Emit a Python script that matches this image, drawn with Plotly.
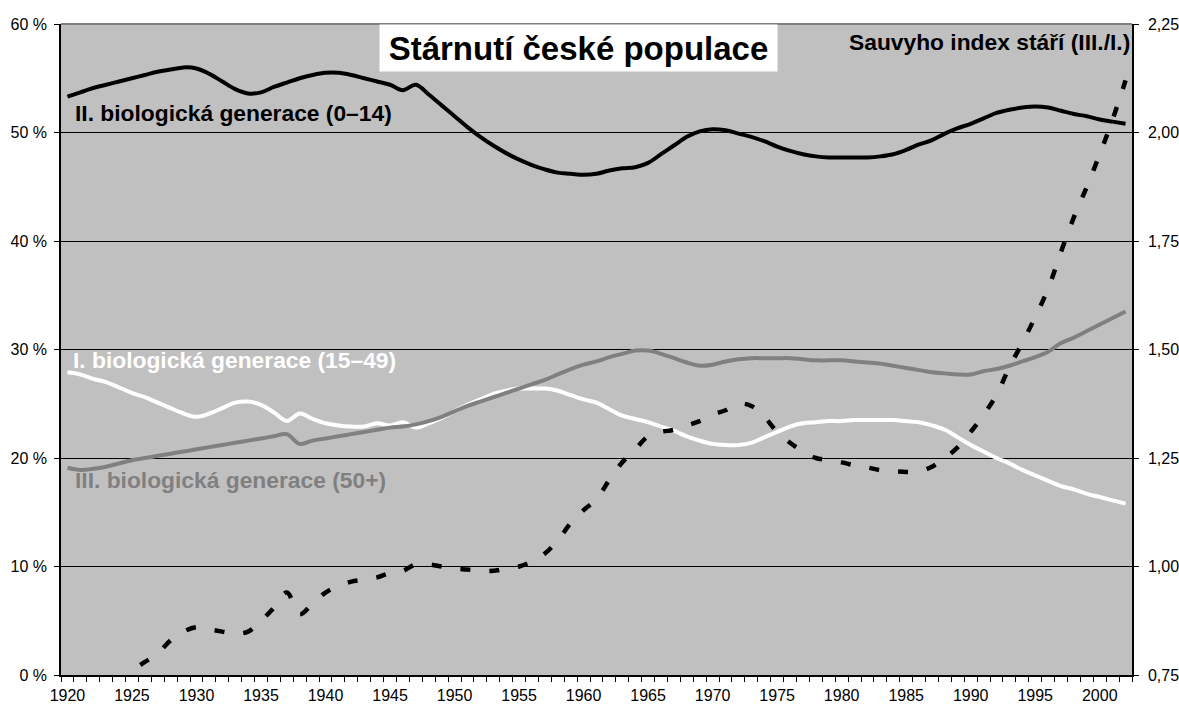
import plotly.graph_objects as go

years = list(range(1920, 2003))

gen_II_0_14 = [
    53.3, 53.7, 54.1, 54.4, 54.7, 55.0, 55.3, 55.6, 55.8, 56.0,
    55.9, 55.4, 54.7, 54.0, 53.6, 53.7, 54.2, 54.6, 55.0, 55.3,
    55.5, 55.5, 55.3, 55.0, 54.7, 54.4, 53.9, 54.4, 53.5, 52.5,
    51.5, 50.5, 49.6, 48.8, 48.1, 47.5, 47.0, 46.6, 46.3, 46.2,
    46.1, 46.2, 46.5, 46.7, 46.8, 47.2, 48.0, 48.8, 49.6, 50.1,
    50.3, 50.2, 49.9, 49.6, 49.2, 48.7, 48.3, 48.0, 47.8, 47.7,
    47.7, 47.7, 47.7, 47.8, 48.0, 48.4, 48.9, 49.3, 49.9, 50.4,
    50.8, 51.3, 51.8, 52.1, 52.3, 52.4, 52.3, 52.0, 51.7, 51.5,
    51.2, 51.0, 50.8,
]

gen_I_15_49 = [
    27.9, 27.7, 27.3, 27.0, 26.5, 26.0, 25.6, 25.1, 24.6, 24.1,
    23.8, 24.1, 24.6, 25.1, 25.2, 24.9, 24.2, 23.4, 24.1, 23.6,
    23.2, 23.0, 22.9, 22.9, 23.2, 23.0, 23.3, 22.8, 23.2, 23.7,
    24.3, 24.9, 25.4, 25.9, 26.2, 26.4, 26.4, 26.4, 26.2, 25.8,
    25.4, 25.1, 24.5, 23.9, 23.6, 23.3, 22.9, 22.5, 22.0, 21.6,
    21.3, 21.2, 21.2, 21.4, 21.9, 22.4, 22.9, 23.2, 23.3, 23.4,
    23.4, 23.5, 23.5, 23.5, 23.5, 23.4, 23.3, 23.0, 22.6, 21.9,
    21.2, 20.6, 20.0, 19.5, 18.9, 18.4, 17.9, 17.4, 17.1, 16.7,
    16.4, 16.1, 15.8,
]

gen_III_50plus = [
    19.1, 18.9, 19.0, 19.2, 19.5, 19.8, 20.0, 20.2, 20.4, 20.6,
    20.8, 21.0, 21.2, 21.4, 21.6, 21.8, 22.0, 22.2, 21.3, 21.6,
    21.8, 22.0, 22.2, 22.4, 22.6, 22.8, 22.9, 23.1, 23.4, 23.8,
    24.3, 24.8, 25.2, 25.6, 26.0, 26.4, 26.8, 27.2, 27.7, 28.2,
    28.6, 28.9, 29.3, 29.6, 29.9, 29.9, 29.6, 29.2, 28.8, 28.5,
    28.6, 28.9, 29.1, 29.2, 29.2, 29.2, 29.2, 29.1, 29.0, 29.0,
    29.0, 28.9, 28.8, 28.7, 28.5, 28.3, 28.1, 27.9, 27.8, 27.7,
    27.7, 28.0, 28.2, 28.5, 28.9, 29.3, 29.8, 30.6, 31.1, 31.7,
    32.3, 32.9, 33.5,
]

sauvy_index = [
    0.69, 0.68, 0.70, 0.71, 0.73, 0.76, 0.78, 0.80, 0.83, 0.85,
    0.86, 0.855, 0.85, 0.845, 0.85, 0.875, 0.905, 0.94, 0.89, 0.915,
    0.94, 0.955, 0.965, 0.97, 0.975, 0.985, 0.99, 1.005, 1.005, 1.0,
    0.995, 0.993, 0.99, 0.99, 0.995, 1.0, 1.012, 1.03, 1.06, 1.10,
    1.13, 1.155, 1.20, 1.24, 1.27, 1.30, 1.31, 1.315, 1.325, 1.335,
    1.35, 1.36, 1.375, 1.37, 1.345, 1.31, 1.285, 1.265, 1.25, 1.245,
    1.24, 1.233, 1.228, 1.222, 1.22, 1.218, 1.219, 1.23, 1.25, 1.275,
    1.31, 1.35, 1.395, 1.46, 1.515, 1.575, 1.64, 1.725, 1.805, 1.875,
    1.95, 2.03, 2.12,
]

x_label_years = list(range(1920, 2001, 5))
left_ticks = [0, 10, 20, 30, 40, 50, 60]
left_tick_labels = ["0 %", "10 %", "20 %", "30 %", "40 %", "50 %", "60 %"]
right_ticks = [0.75, 1.00, 1.25, 1.50, 1.75, 2.00, 2.25]
right_tick_labels = ["0,75", "1,00", "1,25", "1,50", "1,75", "2,00", "2,25"]

FONT = "Liberation Sans, Arial, sans-serif"
W, H = 1179, 704
L, R, T, B = 61, 1132, 24, 675


def px(xp):
    return (xp - L) / (R - L)


def py(yp):
    return (B - yp) / (B - T)


fig = go.Figure()
fig.add_trace(go.Scatter(x=years, y=gen_I_15_49, mode="lines",
                         line=dict(color="#FFFFFF", width=4, shape="spline"),
                         name="I. biologická generace (15–49)"))
fig.add_trace(go.Scatter(x=years, y=gen_III_50plus, mode="lines",
                         line=dict(color="#808080", width=4, shape="spline"),
                         name="III. biologická generace (50+)"))
fig.add_trace(go.Scatter(x=years, y=gen_II_0_14, mode="lines",
                         line=dict(color="#000000", width=4, shape="spline"),
                         name="II. biologická generace (0–14)"))
fig.add_trace(go.Scatter(x=years, y=sauvy_index, mode="lines", yaxis="y2",
                         line=dict(color="#000000", width=4.5, shape="spline",
                                   dash="10px,19px"),
                         name="Sauvyho index stáří (III./I.)"))

fig.update_layout(
    width=W, height=H,
    margin=dict(l=L, r=W - R, t=T, b=H - B, pad=0, autoexpand=False),
    paper_bgcolor="white",
    plot_bgcolor="#C0C0C0",
    showlegend=False,
    font=dict(family=FONT, size=16, color="black"),
    xaxis=dict(
        range=[1919.5, 2002.5], automargin=False,
        tickmode="array", tickvals=x_label_years,
        ticks="", showgrid=False, zeroline=False,
        showline=True, linecolor="black", linewidth=1.5,
        ticklabelstandoff=5,
        tickfont=dict(size=16),
        minor=dict(tickmode="array",
                   tickvals=[y - 0.5 for y in range(1920, 2004)],
                   ticks="outside", ticklen=5, tickcolor="black",
                   tickwidth=1, showgrid=False),
    ),
    yaxis=dict(
        range=[0, 60], automargin=False,
        tickmode="array", tickvals=left_ticks, ticktext=left_tick_labels,
        ticks="outside", ticklen=5, tickcolor="black",
        showgrid=True, gridcolor="#000000", gridwidth=1,
        zeroline=False, showline=True, linecolor="black", linewidth=1.5,
        ticklabelstandoff=4,
    ),
    yaxis2=dict(
        range=[0.75, 2.25], overlaying="y", side="right", automargin=False,
        tickmode="array", tickvals=right_ticks, ticktext=right_tick_labels,
        ticks="outside", ticklen=5, tickcolor="black",
        showgrid=False, zeroline=False,
        showline=True, linecolor="black", linewidth=1.5,
        ticklabelstandoff=6,
    ),
    shapes=[
        dict(type="line", xref="paper", yref="paper", x0=0, x1=1, y0=1, y1=1,
             line=dict(color="#808080", width=2), layer="above"),
    ],
    annotations=[
        dict(text="<b>Stárnutí české populace</b>", xref="paper", yref="paper",
             x=px(578.5), y=1, xanchor="center", yanchor="top",
             showarrow=False, bgcolor="white", borderpad=0, width=397, height=46,
             font=dict(size=33, color="black", family=FONT)),
        dict(text="<b>Sauvyho index stáří (III./I.)</b>", xref="paper", yref="paper",
             x=px(1131), y=py(42), xanchor="right", yanchor="middle",
             showarrow=False, borderpad=0,
             font=dict(size=22.8, color="black", family=FONT)),
        dict(text="<b>II. biologická generace (0–14)</b>", xref="paper", yref="paper",
             x=px(74), y=py(113), xanchor="left", yanchor="middle",
             showarrow=False, borderpad=0,
             font=dict(size=22.8, color="black", family=FONT)),
        dict(text="<b>I. biologická generace (15–49)</b>", xref="paper", yref="paper",
             x=px(72), y=py(360), xanchor="left", yanchor="middle",
             showarrow=False, borderpad=0,
             font=dict(size=22.8, color="white", family=FONT)),
        dict(text="<b>III. biologická generace (50+)</b>", xref="paper", yref="paper",
             x=px(74), y=py(480), xanchor="left", yanchor="middle",
             showarrow=False, borderpad=0,
             font=dict(size=22.8, color="#808080", family=FONT)),
    ],
)

fig.write_html("out.html", config={"displayModeBar": False},
               post_script="document.body.style.margin='0';")
